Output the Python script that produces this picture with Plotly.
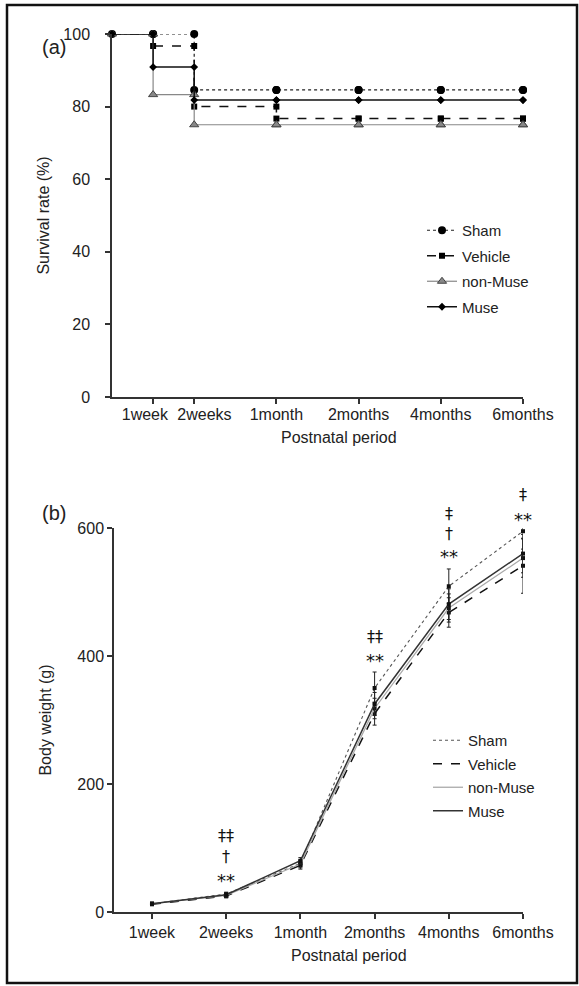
import plotly.graph_objects as go

W, H = 579, 986
FONT = "Liberation Sans, Arial, sans-serif"

# ---------------- data ----------------
groups = ["Sham", "Vehicle", "non-Muse", "Muse"]

# (a) survival
surv_labels = ["1week", "2weeks", "1month", "2months", "4months", "6months"]
surv_x = [0, 1, 2, 4, 6, 8, 10]            # category positions (start + 6 time points)
surv_label_pos = [0.8, 2.25, 4, 6, 8, 10]  # where the tick texts sit
surv_sham = [100, 100, 84.6, 84.6, 84.6, 84.6, 84.6]
surv_vehicle = [100, 96.7, 80.0, 76.7, 76.7, 76.7, 76.7]
surv_nonmuse = [100, 83.3, 75.0, 75.0, 75.0, 75.0, 75.0]
surv_muse = [100, 90.9, 81.8, 81.8, 81.8, 81.8, 81.8]

# (b) body weight
bw_labels = ["1week", "2weeks", "1month", "2months", "4months", "6months"]
bw_sham = [13, 28, 76, 350, 509, 595]
bw_vehicle = [12, 25, 73, 310, 468, 541]
bw_nonmuse = [13, 26, 75, 318, 475, 553]
bw_muse = [13, 27, 80, 325, 481, 560]
sd_sham = [1, 3, 5, 25, 27, 28]
sd_vehicle = [1, 3, 6, 18, 23, 43]
sd_nonmuse = [1, 3, 6, 16, 22, 30]
sd_muse = [1, 3, 5, 18, 24, 30]

sig_labels = [("2weeks", 120, "‡‡"), ("2weeks", 86, "†"), ("2weeks", 55, "**"),
              ("2months", 430, "‡‡"), ("2months", 400, "**"),
              ("4months", 623, "‡"), ("4months", 592, "†"), ("4months", 561, "**"),
              ("6months", 652, "‡"), ("6months", 619, "**")]

# ---------------- helpers ----------------
def px_x(p):
    return p / W

def px_y(p):
    return 1 - p / H

def steps(xs, ys):
    sx, sy = [xs[0]], [ys[0]]
    for i in range(1, len(xs)):
        sx += [xs[i], xs[i]]
        sy += [ys[i - 1], ys[i]]
    return sx, sy

Y2_DOMAIN = [px_y(912), px_y(528)]
Y2_RANGE = [0, 600]

def y2_paper(v):
    return Y2_DOMAIN[0] + (v - Y2_RANGE[0]) / (Y2_RANGE[1] - Y2_RANGE[0]) * (Y2_DOMAIN[1] - Y2_DOMAIN[0])

fig = go.Figure()

# ---------------- (a) survival ----------------
surv_styles = [
    (surv_sham, dict(color="#222", width=1.2, dash="dot"), dict(symbol="circle", size=8, color="#000")),
    (surv_vehicle, dict(color="#111", width=1.5, dash="dash"), dict(symbol="square", size=6, color="#000")),
    (surv_nonmuse, dict(color="#888", width=1.2), dict(symbol="triangle-up", size=8, color="#888",
                                                       line=dict(color="#444", width=1))),
    (surv_muse, dict(color="#111", width=1.5), dict(symbol="diamond", size=6, color="#000")),
]
for name, (ys, ln, mk) in zip(groups, surv_styles):
    sx, sy = steps(surv_x, ys)
    fig.add_trace(go.Scatter(x=sx, y=sy, mode="lines+markers", name=name, line=ln, marker=mk,
                             xaxis="x", yaxis="y", legend="legend", legendgroup="a" + name,
                             cliponaxis=False))

# ---------------- (b) body weight ----------------
bw_styles = [
    (bw_sham, sd_sham, dict(color="#555", width=1.1, dash="dot")),
    (bw_vehicle, sd_vehicle, dict(color="#111", width=1.5, dash="dash")),
    (bw_nonmuse, sd_nonmuse, dict(color="#aaa", width=1.3)),
    (bw_muse, sd_muse, dict(color="#333", width=1.5)),
]
for name, (ys, sd, ln) in zip(groups, bw_styles):
    fig.add_trace(go.Scatter(x=bw_labels, y=ys, mode="lines", name=name, line=ln,
                             error_y=dict(type="data", array=sd, color="#222", thickness=1, width=2),
                             xaxis="x2", yaxis="y2", legend="legend2", legendgroup="b" + name,
                             cliponaxis=False))
    fig.add_trace(go.Scatter(x=bw_labels, y=ys, mode="markers", showlegend=False,
                             marker=dict(symbol="square", size=4, color="#111"),
                             xaxis="x2", yaxis="y2", cliponaxis=False))

# label axis for (a) (tick texts only)
fig.add_trace(go.Scatter(x=[surv_label_pos[0]], y=[None], xaxis="x3", yaxis="y", showlegend=False,
                         hoverinfo="skip"))

TICKFONT = dict(family=FONT, size=16, color="#222")
TITLEFONT = dict(family=FONT, size=16, color="#222")
axis_common = dict(showgrid=False, zeroline=False, showline=True, linecolor="#333", linewidth=1.5,
                   ticks="outside", ticklen=5, tickwidth=1.5, tickcolor="#333", tickfont=TICKFONT)

fig.update_layout(
    width=W, height=H,
    margin=dict(l=0, r=0, t=0, b=0, autoexpand=False),
    paper_bgcolor="white", plot_bgcolor="white",
    font=dict(family=FONT, color="#222"),
    xaxis=dict(domain=[px_x(112), px_x(523)], range=[0, 10], tickvals=surv_x[1:], ticktext=[""] * 6,
               anchor="y", **axis_common),
    xaxis3=dict(domain=[px_x(112), px_x(523)], range=[0, 10], tickvals=surv_label_pos, ticktext=surv_labels,
                overlaying="x", anchor="y", showgrid=False, zeroline=False, showline=False, ticks="",
                side="bottom", ticklabelstandoff=6, tickfont=TICKFONT),
    yaxis=dict(domain=[px_y(397), px_y(34)], range=[0, 100], tickvals=[0, 20, 40, 60, 80, 100],
               anchor="x", ticklabelstandoff=12, **axis_common,
               title=dict(text="Survival rate (%)", font=TITLEFONT, standoff=10)),
    xaxis2=dict(domain=[px_x(114), px_x(523)], range=[-0.512, 5], type="category", anchor="y2",
                **axis_common),
    yaxis2=dict(domain=Y2_DOMAIN, range=Y2_RANGE, tickvals=[0, 200, 400, 600], anchor="x2",
                **axis_common,
                title=dict(text="Body weight (g)", font=TITLEFONT, standoff=22)),
    legend=dict(x=px_x(422), y=px_y(214), xanchor="left", yanchor="top", bgcolor="rgba(0,0,0,0)",
                font=dict(family=FONT, size=15, color="#222"), itemwidth=30, tracegroupgap=3),
    legend2=dict(x=px_x(428), y=px_y(724), xanchor="left", yanchor="top", bgcolor="rgba(0,0,0,0)",
                 font=dict(family=FONT, size=15, color="#222"), itemwidth=30, tracegroupgap=1),
)

annotations = [
    dict(text="(a)", x=px_x(40), y=px_y(34), xref="paper", yref="paper", showarrow=False,
         font=dict(family=FONT, size=20, color="#222")),
    dict(text="(b)", x=px_x(40), y=px_y(513), xref="paper", yref="paper", showarrow=False,
         font=dict(family=FONT, size=20, color="#222")),
    dict(text="Postnatal period", x=px_x(339), y=px_y(437), xref="paper", yref="paper", showarrow=False,
         xanchor="center", yanchor="middle", font=TITLEFONT),
    dict(text="Postnatal period", x=px_x(349), y=px_y(955), xref="paper", yref="paper", showarrow=False,
         xanchor="center", yanchor="middle", font=TITLEFONT),
]
for cat, yv, txt in sig_labels:
    annotations.append(dict(text=txt, x=cat, y=y2_paper(yv), xref="x2", yref="paper", showarrow=False,
                            xanchor="center", yanchor="middle", yshift=-4 if txt == "**" else 0,
                            font=dict(family="DejaVu Sans, " + FONT, size=18 if txt == "**" else 16,
                                      color="#111")))
fig.update_layout(annotations=annotations)

fig.add_shape(type="rect", xref="paper", yref="paper", x0=px_x(7), x1=px_x(577), y0=px_y(983), y1=px_y(5),
              line=dict(color="#111", width=2.5), fillcolor="rgba(0,0,0,0)")

fig.write_html("out.html")
